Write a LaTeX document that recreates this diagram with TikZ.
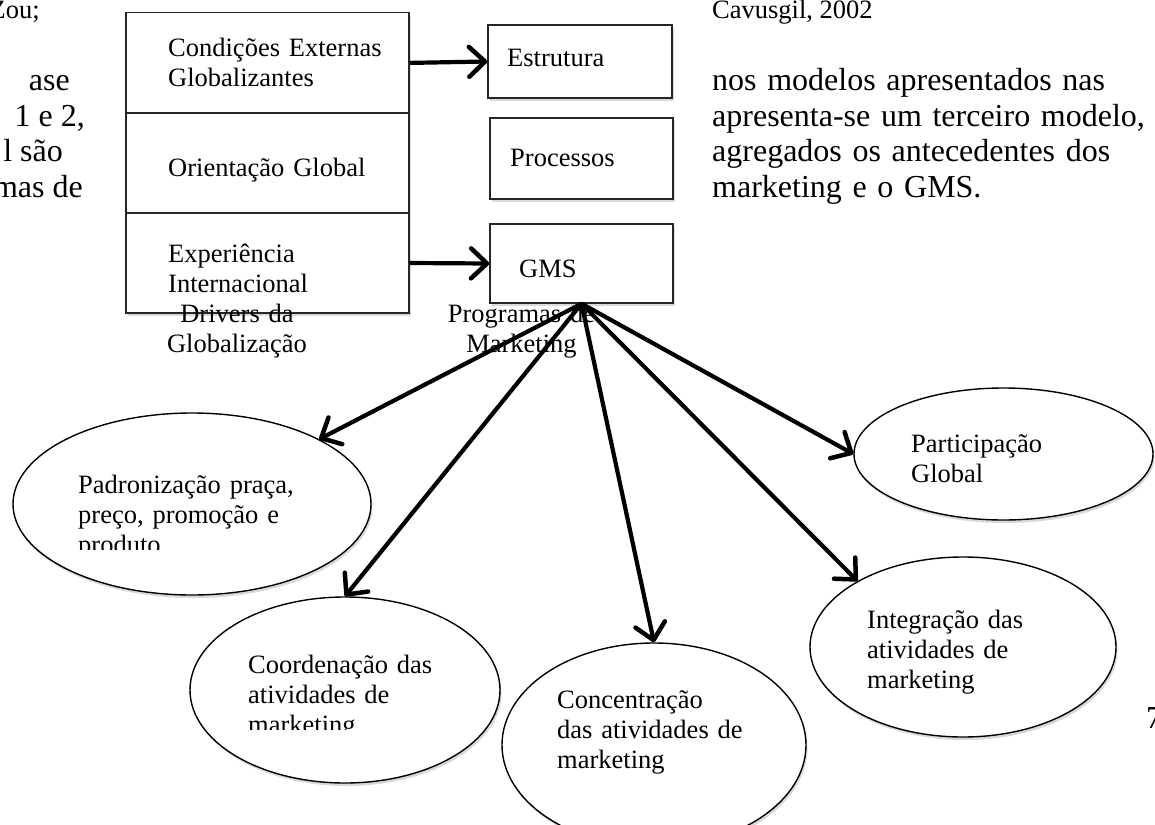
\documentclass[tikz,border=0pt]{standalone}
\usepackage{fontspec}
\setmainfont{Liberation Serif}
\usetikzlibrary{arrows.meta,shapes.geometric,shadows}
\begin{document}
\begin{tikzpicture}[x=1pt,y=-1pt,
  shd/.style={drop shadow={shadow xshift=1.5pt,shadow yshift=-3pt,opacity=0.15,fill=black}},
  box/.style={rectangle,draw=black!85,line width=1.4pt,fill=white,inner sep=0pt,shd},
  oval/.style={ellipse,draw=black,line width=1.4pt,fill=white,inner sep=0pt,shd},
  dfont/.style={font=\fontsize{26.5}{30}\selectfont},
  bfont/.style={font=\fontsize{32}{35.7}\selectfont},
  lbl/.style={dfont,inner sep=0pt,text width=#1,align=left,anchor=base west},
  clbl/.style={dfont,inner sep=0pt,text width=#1,align=center,anchor=base},
  frag/.style={bfont,inner sep=0pt,anchor=base east},
  arr/.style={line width=4.2pt,-{Straight Barb[length=16pt,width=30pt,line width=4.5pt,round]}}
]
\useasboundingbox (0,0) rectangle (1155,824);
\clip (0,0) rectangle (1155,824);

% page text around the figure
\node[dfont,inner sep=0pt,anchor=base east] (tzou) at (40,19) {Zou;};
\node[dfont,inner sep=0pt,anchor=base west] (tcit) at (712,19) {Cavusgil, 2002};
\node[frag] (f1) at (70,90.5) {ase};
\node[frag] (f2) at (85,126.2) {1 e 2,};
\node[frag] (f3) at (63,161.9) {l são};
\node[frag] (f4) at (83,197.6) {mas de};
\node[bfont,inner sep=0pt,text width=460,align=left,anchor=base west] (tbody) at (712,90.5)
  {nos modelos apresentados nas\\apresenta-se um terceiro modelo,\\agregados os antecedentes dos\\marketing e o GMS.};
\node[bfont,inner sep=0pt,anchor=base west] (tpage) at (1146,728) {7};

% boxes
\node[box,minimum width=283,minimum height=100.3] (cond) at (267.5,62.9) {};
\node[box,minimum width=283,minimum height=100] (orient) at (267.5,163) {};
\node[box,minimum width=283,minimum height=100] (exper) at (267.5,263) {};
\node[box,minimum width=184,minimum height=73] (estr) at (580,61.5) {};
\node[box,minimum width=183,minimum height=81] (proc) at (581.5,158.5) {};
\node[box,minimum width=183,minimum height=79] (gms) at (581.5,263.5) {};

% ellipses
\node[oval,minimum width=358,minimum height=182] (pad) at (192,504) {};
\node[oval,minimum width=299,minimum height=132] (part) at (1003.5,454) {};
\node[oval,minimum width=310,minimum height=186] (coord) at (345,690) {};
\node[oval,minimum width=304,minimum height=204] (conc) at (654,745) {};
\node[oval,minimum width=306,minimum height=180] (int) at (963,647) {};

% box texts
\node[lbl=250] (tcond) at (168,57) {Condições Externas\\Globalizantes};
\node[lbl=250] (torient) at (168,176) {Orientação Global};
\node[lbl=250] (texper) at (168,262) {Experiência\\Internacional};
\node[clbl=220] (tdriv) at (237,322) {Drivers da\\Globalização};
\node[lbl=150] (testr) at (507,67) {Estrutura};
\node[lbl=150] (tproc) at (510,166) {Processos};
\node[lbl=150] (tgms) at (519,277) {GMS};
\node[clbl=220] (tprog) at (521.5,322) {Programas de\\Marketing};

% ellipse texts
\begin{scope}
  \clip (0,0) rectangle (1155,549);
  \node[lbl=260] (tpad) at (78,493) {Padronização praça,\\preço, promoção e\\produto};
\end{scope}
\node[lbl=200] (tpart) at (911,452) {Participação\\Global};
\begin{scope}
  \clip (0,0) rectangle (1155,729);
  \node[lbl=220] (tcoord) at (248,673) {Coordenação das\\atividades de\\marketing};
\end{scope}
\node[lbl=220] (tconc) at (557,708) {Concentração\\das atividades de\\marketing};
\node[lbl=220] (tint) at (867,628) {Integração das\\atividades de\\marketing};

% arrows
\draw[arr] (cond.east) -- (estr.west);
\draw[arr] (exper.east) -- (gms.west);
\draw[arr] (gms.south) -- (pad.27);
\draw[arr] (gms.south) -- (coord.north);
\draw[arr] (gms.south) -- (conc.north);
\draw[arr] (gms.south) -- (int.148);
\draw[arr] (gms.south) -- (part.west);
\end{tikzpicture}
\end{document}
